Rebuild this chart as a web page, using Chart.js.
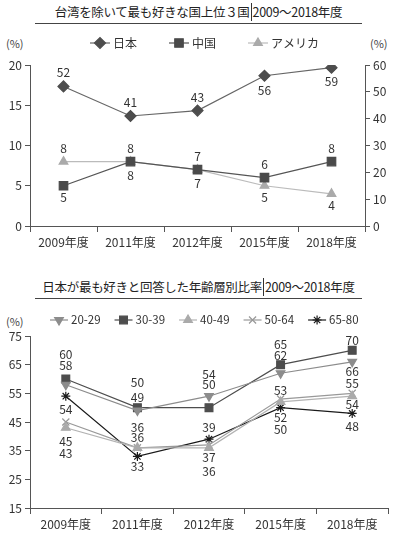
<!DOCTYPE html>
<html>
<head>
<meta charset="utf-8">
<script src="https://cdn.jsdelivr.net/npm/chart.js@4"></script>
<style>
  body { margin: 0; width: 400px; height: 550px; background: #fff; position: relative; overflow: hidden;
         font-family: "Noto Sans CJK JP", sans-serif; color: #333; }
  .title { position: absolute; left: 35px; width: 327px; text-align: center; font-size: 12.5px; white-space: nowrap;
           letter-spacing: -0.3px; line-height: 18px; border-bottom: 1px solid #444; padding-bottom: 2px; color: #222; }
  .sep { display: inline-block; height: 18px; border-left: 1.3px solid #333; vertical-align: -4px; margin: 0 1px; }
  .unit { position: absolute; font-size: 11px; color: #444; }
  .box { position: absolute; left: 0; width: 400px; }
</style>
</head>
<body>
<div class="title" style="top:3px">台湾を除いて最も好きな国上位３国<span class="sep"></span>2009～2018年度</div>
<div class="unit" style="left:6px;top:35px">(%)</div>
<div class="unit" style="left:370px;top:35px">(%)</div>
<div class="box" style="top:30px;height:230px"><canvas id="c1"></canvas></div>

<div class="title" style="top:278px">日本が最も好きと回答した年齢層別比率<span class="sep"></span>2009～2018年度</div>
<div class="unit" style="left:6px;top:313px">(%)</div>
<div class="box" style="top:300px;height:250px"><canvas id="c2"></canvas></div>

<script>
// data
const years = ['2009年度', '2011年度', '2012年度', '2015年度', '2018年度'];

const japan = [52, 41, 43, 56, 59];   // right axis
const china = [5, 8, 7, 6, 8];
const usa = [8, 8, 7, 5, 4];

const age20 = [58, 49, 54, 62, 66];
const age30 = [60, 50, 50, 65, 70];
const age40 = [43, 36, 36, 52, 54];
const age50 = [45, 36, 37, 53, 55];
const age65 = [54, 33, 39, 50, 48];

const FONT = '"Noto Sans CJK JP", sans-serif';

// legend drawn as "—◆— label"
const lineLegend = {
  id: 'lineLegend',
  afterDraw(chart, args, opts) {
    const ctx = chart.ctx;
    ctx.save();
    ctx.font = opts.size + 'px ' + FONT;
    ctx.textBaseline = 'middle';
    let x = opts.x;
    const y = opts.y;
    chart.data.datasets.forEach(ds => {
      ctx.strokeStyle = ds.borderColor;
      ctx.lineWidth = 1.2;
      ctx.beginPath();
      ctx.moveTo(x, y);
      ctx.lineTo(x + opts.line, y);
      ctx.stroke();
      ctx.fillStyle = ds.pointBackgroundColor;
      ctx.strokeStyle = ds.pointBorderColor;
      ctx.lineWidth = ds.pointBorderWidth;
      Chart.helpers.drawPoint(ctx, {
        pointStyle: ds.pointStyle,
        rotation: ds.pointRotation || 0,
        radius: ds.pointRadius,
        borderWidth: ds.pointBorderWidth
      }, x + opts.line / 2, y);
      ctx.fillStyle = '#333';
      ctx.fillText(ds.label, x + opts.line + 3, y);
      x += opts.line + 3 + ctx.measureText(ds.label).width + opts.gap;
    });
    ctx.restore();
  }
};

// value labels, shifted up/down per point
function valueLabels(offsets) {
  return {
    id: 'valueLabels',
    afterDatasetsDraw(chart) {
      const ctx = chart.ctx;
      ctx.save();
      ctx.font = '12px ' + FONT;
      ctx.fillStyle = '#333';
      ctx.textAlign = 'center';
      ctx.textBaseline = 'middle';
      chart.data.datasets.forEach((ds, i) => {
        chart.getDatasetMeta(i).data.forEach((pt, j) => {
          ctx.fillText(ds.data[j], pt.x, pt.y + offsets[i][j]);
        });
      });
      ctx.restore();
    }
  };
}

function series(label, data, line, mark, style, radius, extra) {
  return Object.assign({
    label: label,
    data: data,
    borderColor: line,
    borderWidth: 1.2,
    pointStyle: style,
    pointRadius: radius,
    pointBackgroundColor: mark,
    pointBorderColor: mark,
    pointBorderWidth: 1.2,
    tension: 0
  }, extra || {});
}

const axisColor = '#555';
const tickFont = { family: FONT, size: 12 };

function yAxis(pos, min, max, step, width) {
  return {
    position: pos, min: min, max: max,
    ticks: { stepSize: step, color: '#333', font: tickFont, padding: 3 },
    grid: { drawOnChartArea: false, tickLength: 5, color: axisColor },
    border: { color: axisColor, width: 1 },
    afterFit: s => { s.width = width; }
  };
}

function xAxis(height) {
  return {
    offset: true,
    ticks: { color: '#333', font: tickFont, padding: 3, maxRotation: 0 },
    grid: { offset: true, drawOnChartArea: false, tickLength: 6, color: axisColor },
    border: { color: axisColor, width: 1 },
    afterFit: s => { s.height = height; }
  };
}

new Chart(document.getElementById('c1'), {
  type: 'line',
  data: {
    labels: years,
    datasets: [
      series('日本', japan, '#666', '#4d4d4d', 'rectRot', 5.5, { yAxisID: 'y2' }),
      series('中国', china, '#555', '#4a4a4a', 'rect', 6, { yAxisID: 'y' }),
      series('アメリカ', usa, '#bbb', '#aaa', 'triangle', 5, { yAxisID: 'y' })
    ]
  },
  options: {
    responsive: true,
    maintainAspectRatio: false,
    animation: false,
    layout: { autoPadding: false, padding: { top: 35, left: 0, right: 0, bottom: 0 } },
    plugins: {
      legend: { display: false },
      tooltip: { enabled: false },
      lineLegend: { x: 90, y: 13, line: 20, gap: 32, size: 12 }
    },
    scales: {
      x: xAxis(34),
      y: yAxis('left', 0, 20, 5, 30),
      y2: yAxis('right', 0, 60, 10, 35)
    }
  },
  plugins: [lineLegend, valueLabels([
    [-14, -14, -13, 15, 14],
    [12, -13, -13, -13, -13],
    [-13, 14, 14, 12, 12]
  ])]
});

new Chart(document.getElementById('c2'), {
  type: 'line',
  data: {
    labels: years,
    datasets: [
      series('20-29', age20, '#8c8c8c', '#8c8c8c', 'triangle', 5, { pointRotation: 180 }),
      series('30-39', age30, '#4d4d4d', '#4d4d4d', 'rect', 5.5),
      series('40-49', age40, '#b3b3b3', '#aaa', 'triangle', 5),
      series('50-64', age50, '#999', '#999', 'crossRot', 5),
      series('65-80', age65, '#1a1a1a', '#1a1a1a', 'star', 4.5)
    ]
  },
  options: {
    responsive: true,
    maintainAspectRatio: false,
    animation: false,
    layout: { autoPadding: false, padding: { top: 36, left: 0, right: 12, bottom: 0 } },
    plugins: {
      legend: { display: false },
      tooltip: { enabled: false },
      lineLegend: { x: 50, y: 20, line: 18, gap: 14, size: 11.5 }
    },
    scales: {
      x: xAxis(42),
      y: yAxis('left', 15, 75, 10, 30)
    }
  },
  plugins: [lineLegend, valueLabels([
    [-19, -13, -22, -18, 10],
    [-25, -25, -23, -20, -10],
    [26, -10, 24, 16, 8],
    [19, -20, 13, -9, -10],
    [13, 10, -12, 22, 13]
  ])]
});
</script>
</body>
</html>
